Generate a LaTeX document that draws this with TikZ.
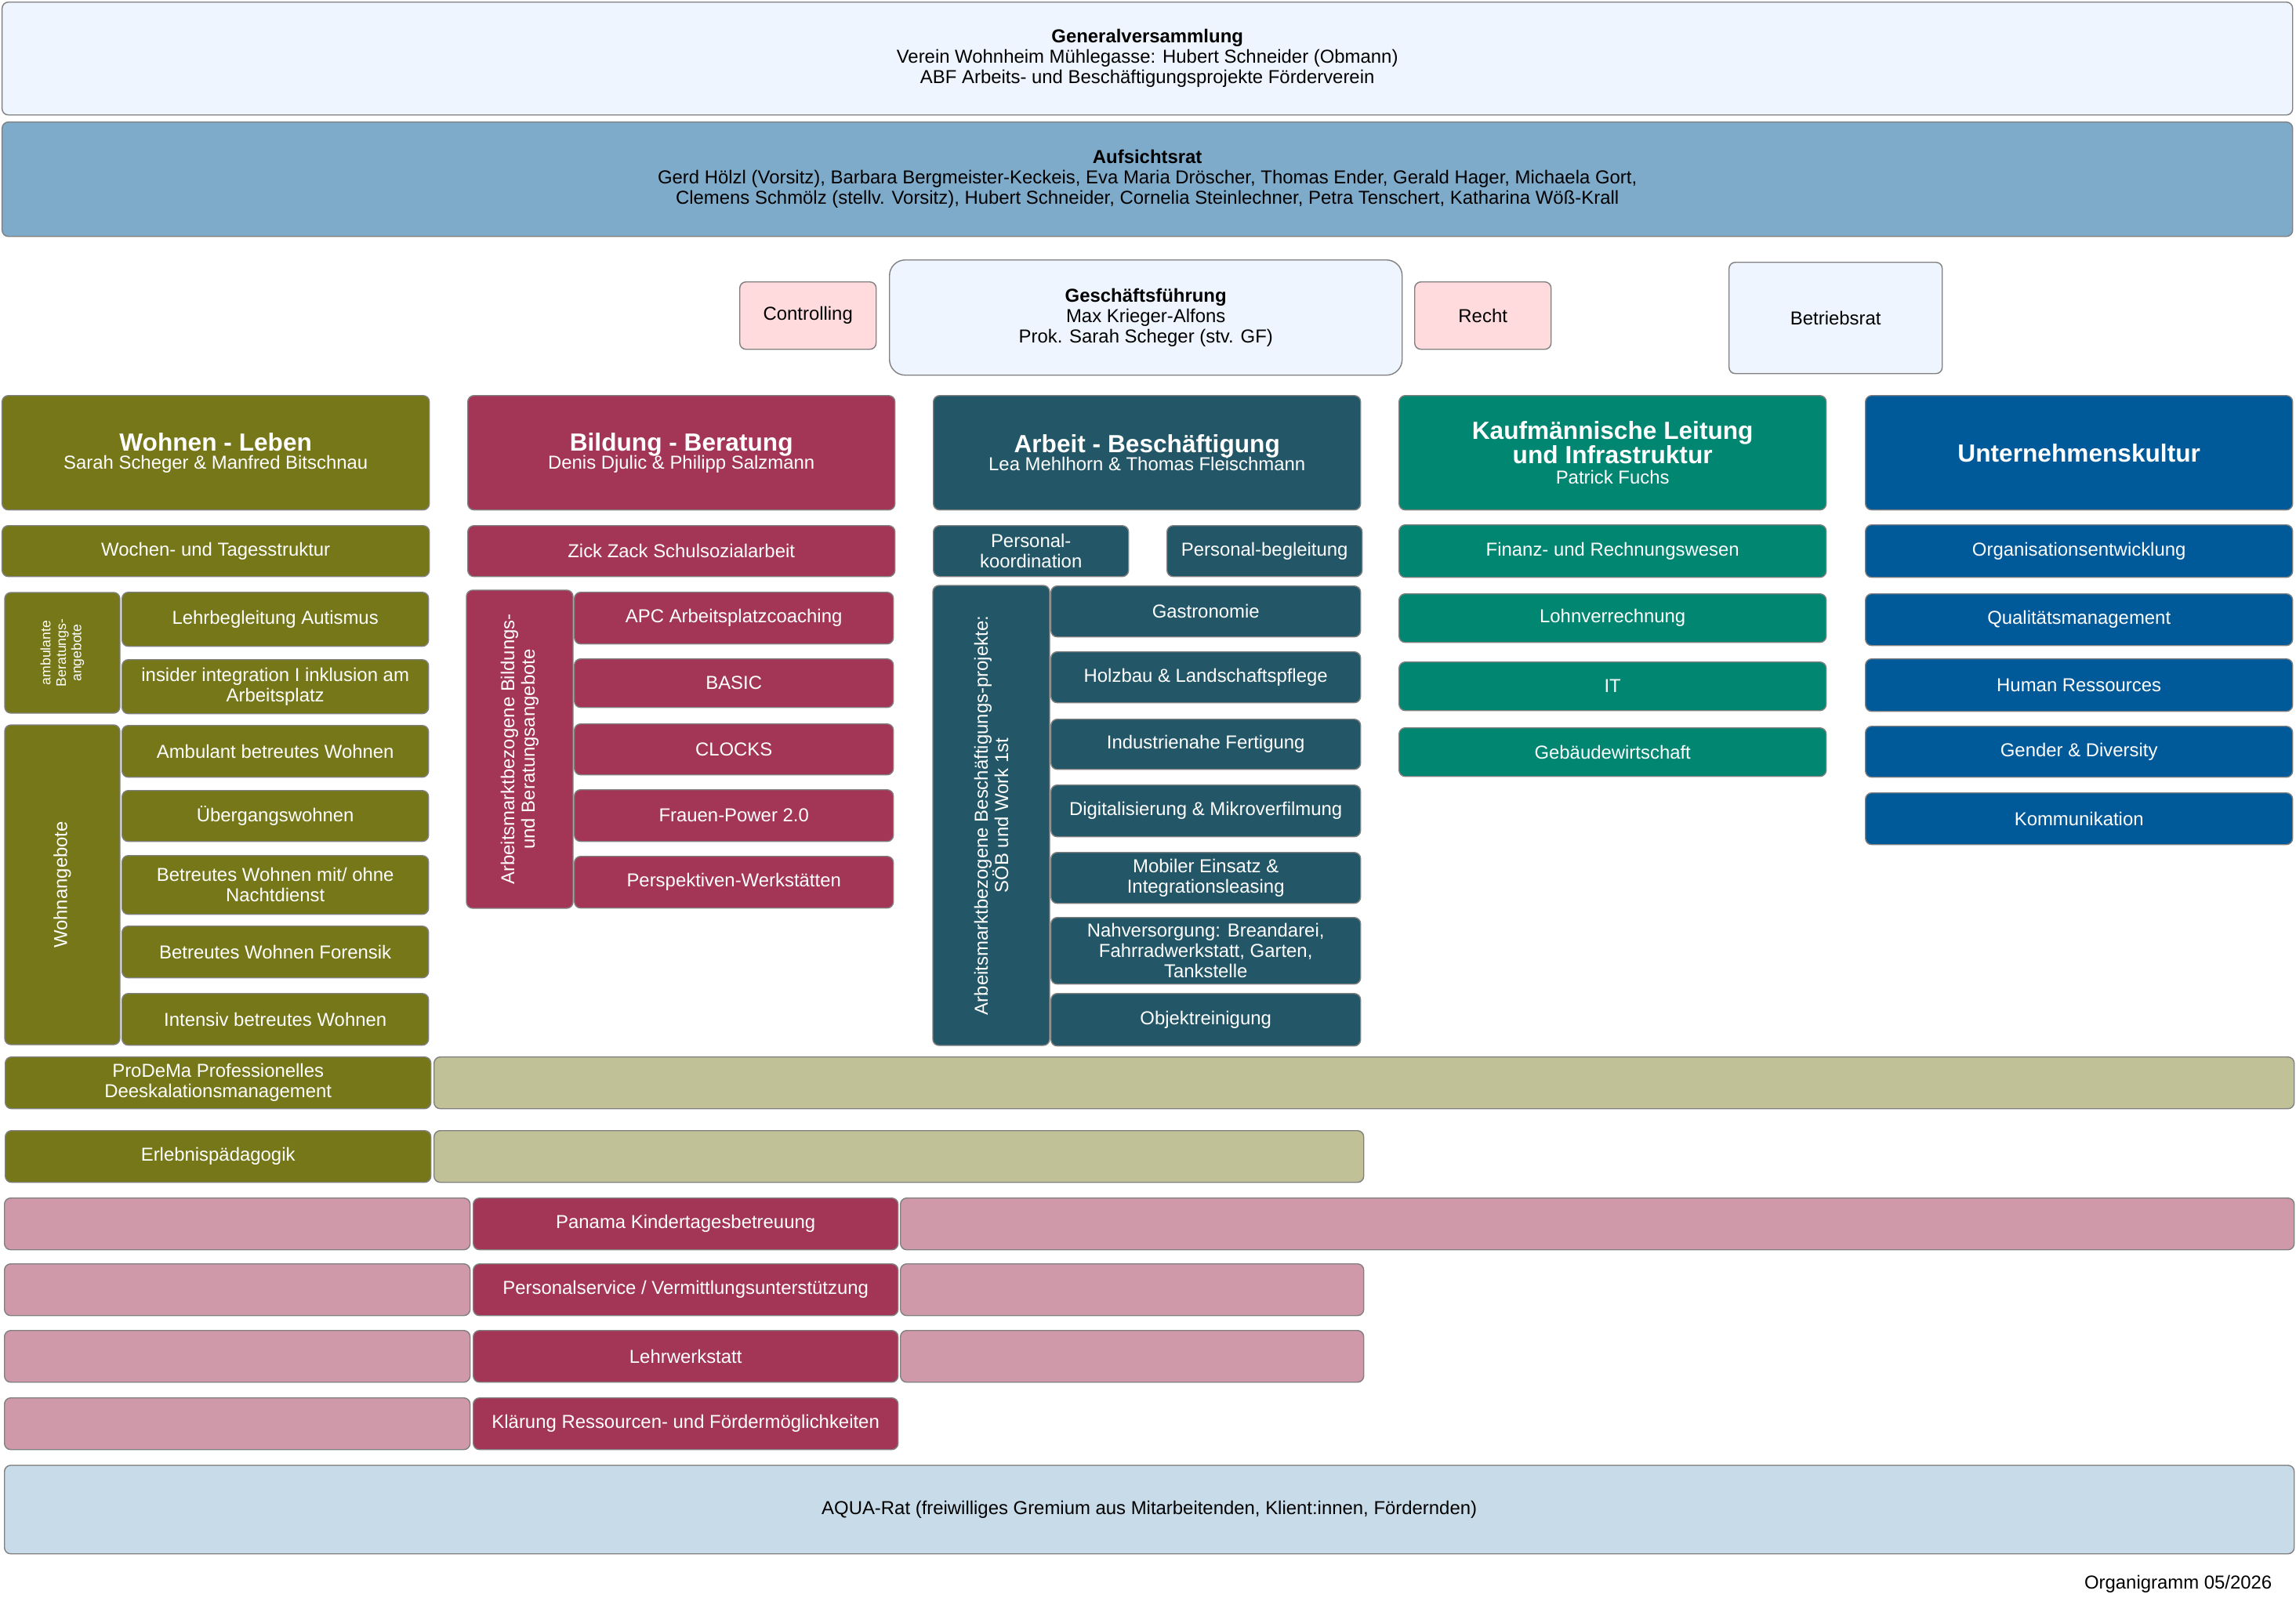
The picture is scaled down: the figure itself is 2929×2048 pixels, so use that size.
\documentclass[tikz,border=0pt]{standalone}
\usepackage{fontspec}
\setmainfont{Liberation Sans}
\usetikzlibrary{positioning}
\definecolor{wlcol}{RGB}{117,119,25}
\definecolor{wllight}{RGB}{192,193,150}
\definecolor{bbcol}{RGB}{163,53,87}
\definecolor{bblight}{RGB}{208,153,169}
\definecolor{abcol}{RGB}{35,87,103}
\definecolor{klcol}{RGB}{0,134,113}
\definecolor{ukcol}{RGB}{0,89,153}
\definecolor{arcol}{RGB}{127,171,203}
\definecolor{palecol}{RGB}{238,245,255}
\definecolor{rosecol}{RGB}{255,219,222}
\definecolor{aqcol}{RGB}{200,219,233}
\tikzset{
     box/.style={draw=black!50, rounded corners=0.8mm, inner sep=1pt, align=center,
       font=\fontsize{6.8}{7.4}\selectfont},
     wl/.style={box, fill=wlcol, text=white},
     wla/.style={box, fill=wllight},
     bb/.style={box, fill=bbcol, text=white},
     bba/.style={box, fill=bblight},
     ab/.style={box, fill=abcol, text=white},
     kl/.style={box, fill=klcol, text=white},
     uk/.style={box, fill=ukcol, text=white},
     pale/.style={box, fill=palecol},
     rose/.style={box, fill=rosecol},
     tiny/.style={font=\fontsize{5}{5.6}\selectfont},
}
\def\ux{0.01cm}
\newcommand{\orgbox}[7]{\node[#1, minimum width=#5*\ux, minimum height=#6*\ux,
  anchor=north west] (#2) at (#3,#4) {#7};}
\newcommand{\hdr}[1]{{\fontsize{9}{10}\selectfont\bfseries #1}}

\begin{document}
\begin{tikzpicture}[x=\ux, y=-\ux]
  \useasboundingbox (0,0) rectangle (2929,2048);

  %% Leitung
  \orgbox{pale}{gv}{2}{2}{2922}{144}{\textbf{Generalversammlung}\\Verein Wohnheim Mühlegasse: Hubert Schneider (Obmann)\\ABF Arbeits- und Beschäftigungsprojekte Förderverein}
  \orgbox{box, fill=arcol}{ar}{2}{155}{2922}{146}{\textbf{Aufsichtsrat}\\Gerd Hölzl (Vorsitz), Barbara Bergmeister-Keckeis, Eva Maria Dröscher, Thomas Ender, Gerald Hager, Michaela Gort,\\Clemens Schmölz (stellv. Vorsitz), Hubert Schneider, Cornelia Steinlechner, Petra Tenschert, Katharina Wöß-Krall}
  \orgbox{rose}{ctrl}{943}{359}{174}{86}{Controlling}
  \orgbox{pale, rounded corners=2mm}{gf}{1134}{331}{654}{147}{\textbf{Geschäftsführung}\\Max Krieger-Alfons\\Prok. Sarah Scheger (stv. GF)}
  \orgbox{rose}{recht}{1804}{359}{174}{86}{Recht}
  \orgbox{pale}{br}{2205}{334}{272}{142}{Betriebsrat}

  %% Bereiche
  \orgbox{wl}{wohnen}{2}{504}{545}{146}{\hdr{Wohnen - Leben}\\[-0.8pt]Sarah Scheger \& Manfred Bitschnau}
  \orgbox{bb}{bildung}{596}{504}{545}{146}{\hdr{Bildung - Beratung}\\[-0.8pt]Denis Djulic \& Philipp Salzmann}
  \orgbox{ab}{arbeit}{1190}{504}{545}{146}{\hdr{Arbeit - Beschäftigung}\\[-0.8pt]Lea Mehlhorn \& Thomas Fleischmann}
  \orgbox{kl}{kaufm}{1784}{504}{545}{146}{\hdr{Kaufmännische Leitung}\\[-0.4pt]\hdr{und Infrastruktur}\\[0pt]Patrick Fuchs}
  \orgbox{uk}{ukultur}{2379}{504}{545}{146}{\hdr{Unternehmenskultur}}

  %% Wohnen - Leben
  \orgbox{wl}{wt}{2}{670}{545}{65}{Wochen- und Tagesstruktur}
  \node[wl, tiny, rotate=90, minimum width=154*\ux, minimum height=147*\ux] (ambB) at (79.5,833) {ambulante\\Beratungs-\\angebote};
  \orgbox{wl}{lehr}{155}{755}{391}{69}{Lehrbegleitung Autismus}
  \orgbox{wl}{ins}{155}{841}{391}{69}{insider integration I inklusion am\\Arbeitsplatz}
  \node[wl, rotate=90, minimum width=408*\ux, minimum height=147*\ux] (wang) at (79.5,1129) {Wohnangebote};
  \orgbox{wl}{abw}{155}{925}{391}{66}{Ambulant betreutes Wohnen}
  \orgbox{wl}{uew}{155}{1008}{391}{65}{Übergangswohnen}
  \orgbox{wl}{bwn}{155}{1091}{391}{75}{Betreutes Wohnen mit/ ohne\\Nachtdienst}
  \orgbox{wl}{bwf}{155}{1181}{391}{66}{Betreutes Wohnen Forensik}
  \orgbox{wl}{ibw}{155}{1267}{391}{66}{Intensiv betreutes Wohnen}

  %% Bildung - Beratung
  \orgbox{bb}{zz}{596}{670}{545}{65}{Zick Zack Schulsozialarbeit}
  \node[bb, rotate=90, minimum width=406*\ux, minimum height=136*\ux] (bside) at (663,956) {Arbeitsmarktbezogene Bildungs-\\und Beratungsangebote};
  \orgbox{bb}{apc}{732}{755}{407}{66}{APC Arbeitsplatzcoaching}
  \orgbox{bb}{basic}{732}{840}{407}{62}{BASIC}
  \orgbox{bb}{clocks}{732}{923}{407}{65}{CLOCKS}
  \orgbox{bb}{fp}{732}{1007}{407}{66}{Frauen-Power 2.0}
  \orgbox{bb}{pw}{732}{1092}{407}{66}{Perspektiven-Werkstätten}

  %% Arbeit - Beschaeftigung
  \orgbox{ab}{pk}{1190}{670}{249}{65}{Personal-\\koordination}
  \orgbox{ab}{pb}{1488}{670}{249}{65}{Personal-begleitung}
  \node[ab, rotate=90, minimum width=587*\ux, minimum height=149*\ux] (aside) at (1264.5,1040.5) {Arbeitsmarktbezogene Beschäftigungs-projekte:\\SÖB und Work 1st};
  \orgbox{ab}{gastro}{1340}{747}{395}{65}{Gastronomie}
  \orgbox{ab}{holz}{1340}{831}{395}{65}{Holzbau \& Landschaftspflege}
  \orgbox{ab}{ind}{1340}{917}{395}{64}{Industrienahe Fertigung}
  \orgbox{ab}{digi}{1340}{1001}{395}{66}{Digitalisierung \& Mikroverfilmung}
  \orgbox{ab}{mob}{1340}{1087}{395}{65}{Mobiler Einsatz \&\\Integrationsleasing}
  \orgbox{ab}{nah}{1340}{1170}{395}{85}{Nahversorgung: Breandarei,\\Fahrradwerkstatt, Garten,\\Tankstelle}
  \orgbox{ab}{obj}{1340}{1267}{395}{67}{Objektreinigung}

  %% Kaufmaennische Leitung
  \orgbox{kl}{fin}{1784}{669}{545}{67}{Finanz- und Rechnungswesen}
  \orgbox{kl}{lohn}{1784}{757}{545}{62}{Lohnverrechnung}
  \orgbox{kl}{it}{1784}{844}{545}{62}{IT}
  \orgbox{kl}{geb}{1784}{928}{545}{62}{Gebäudewirtschaft}

  %% Unternehmenskultur
  \orgbox{uk}{oe}{2379}{669}{545}{67}{Organisationsentwicklung}
  \orgbox{uk}{qm}{2379}{757}{545}{66}{Qualitätsmanagement}
  \orgbox{uk}{hr}{2379}{840}{545}{67}{Human Ressources}
  \orgbox{uk}{gd}{2379}{926}{545}{65}{Gender \& Diversity}
  \orgbox{uk}{komm}{2379}{1011}{545}{66}{Kommunikation}

  %% uebergreifend
  \orgbox{wl}{pro}{6}{1348}{543}{66}{ProDeMa Professionelles\\Deeskalationsmanagement}
  \orgbox{wla}{proL}{553}{1348}{2373}{66}{}
  \orgbox{wl}{erl}{6}{1442}{543}{66}{Erlebnispädagogik}
  \orgbox{wla}{erlL}{553}{1442}{1186}{66}{}
  \orgbox{bba}{panL}{5}{1528}{594}{66}{}
  \orgbox{bb}{pan}{603}{1528}{542}{66}{Panama Kindertagesbetreuung}
  \orgbox{bba}{panR}{1148}{1528}{1778}{66}{}
  \orgbox{bba}{psL}{5}{1612}{594}{66}{}
  \orgbox{bb}{ps}{603}{1612}{542}{66}{Personalservice / Vermittlungsunterstützung}
  \orgbox{bba}{psR}{1148}{1612}{591}{66}{}
  \orgbox{bba}{lwL}{5}{1697}{594}{66}{}
  \orgbox{bb}{lw}{603}{1697}{542}{66}{Lehrwerkstatt}
  \orgbox{bba}{lwR}{1148}{1697}{591}{66}{}
  \orgbox{bba}{klL}{5}{1783}{594}{66}{}
  \orgbox{bb}{kl}{603}{1783}{542}{66}{Klärung Ressourcen- und Fördermöglichkeiten}
  \orgbox{box, fill=aqcol}{aqua}{5}{1869}{2921}{113}{AQUA-Rat (freiwilliges Gremium aus Mitarbeitenden, Klient:innen, Fördernden)}

  \node[font=\fontsize{6.8}{7.4}\selectfont, anchor=east, inner sep=0pt] (stamp) at (2899,2021) {Organigramm 05/2026};
\end{tikzpicture}
\end{document}
